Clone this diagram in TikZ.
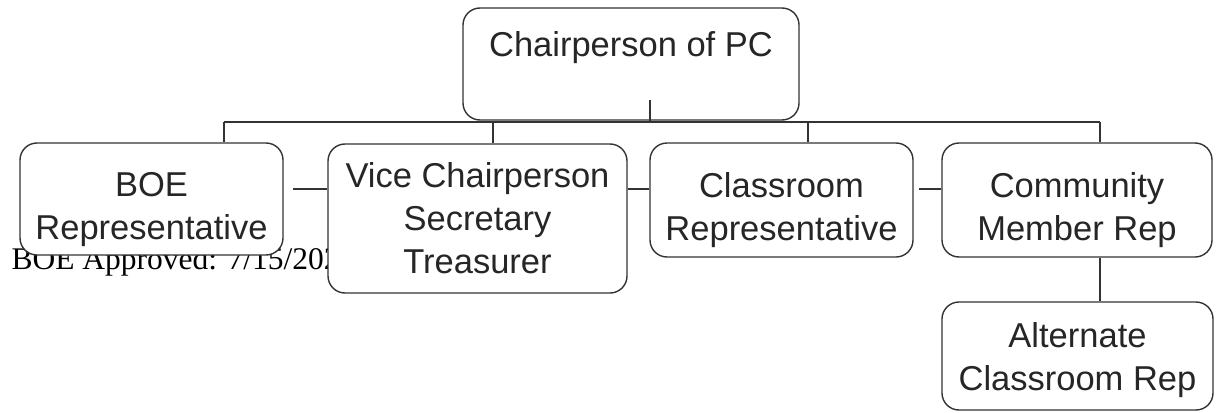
\documentclass[tikz,border=0pt]{standalone}
\usepackage{fontspec}
\setmainfont{Liberation Sans}
\newfontfamily\timesfont{Liberation Serif}
\newcommand{\toppad}[1]{\rule{0pt}{#1}}
\begin{document}
\begin{tikzpicture}[x=1pt, y=-1pt,
    box/.style={draw=black!80, fill=white, line width=1.4pt, rounded corners=17pt,
      inner sep=0pt, align=center, text=black!85,
      font=\fontsize{34.5}{43}\selectfont},
    link/.style={draw=black!80, line width=1.4pt}]
    \useasboundingbox (0, 0) rectangle (1217, 412);
    \node[anchor=base west, font=\timesfont\fontsize{31.5}{34}\selectfont] (approved) at (8, 269) {BOE Approved: 7/15/202};
    \node[box, minimum width=336pt, minimum height=112pt] (chair) at (631, 64) {\toppad{43pt}Chairperson of PC\\[3pt]\strut};
    \node[box, minimum width=263pt, minimum height=112pt] (boe) at (151.5, 199) {\toppad{45pt}BOE\\Representative};
    \node[box, minimum width=299pt, minimum height=149pt] (vice) at (477.5, 218.5) {Vice Chairperson\\Secretary\\Treasurer};
    \node[box, minimum width=263pt, minimum height=114pt] (class) at (781.5, 200) {\toppad{45pt}Classroom\\Representative};
    \node[box, minimum width=270pt, minimum height=114pt] (comm) at (1077, 200) {\toppad{45pt}Community\\Member Rep};
    \node[box, minimum width=271pt, minimum height=108pt] (alt) at (1077.5, 356) {\toppad{33pt}Alternate\\Classroom Rep};
    \coordinate (stub) at (650, 100);
    \coordinate (busL) at (224, 122);
    \coordinate (busR) at (1100, 122);
    \coordinate (boeR) at (293, 189);
    \coordinate (classR) at (919, 189);
    \draw[link] (stub) -- (stub |- chair.south);
    \draw[link] (busL) -- (busR);
    \draw[link] (busL) -- (busL |- boe.north);
    \draw[link] (vice.north -| 493, 0) -- (493, 122);
    \draw[link] (class.north -| 808, 0) -- (808, 122);
    \draw[link] (busR) -- (busR |- comm.north);
    \draw[link] (boeR) -- (boeR -| vice.west);
    \draw[link] (vice.east |- classR) -- (class.west |- classR);
    \draw[link] (classR) -- (classR -| comm.west);
    \draw[link] (busR |- comm.south) -- (busR |- alt.north);
\end{tikzpicture}
\end{document}
